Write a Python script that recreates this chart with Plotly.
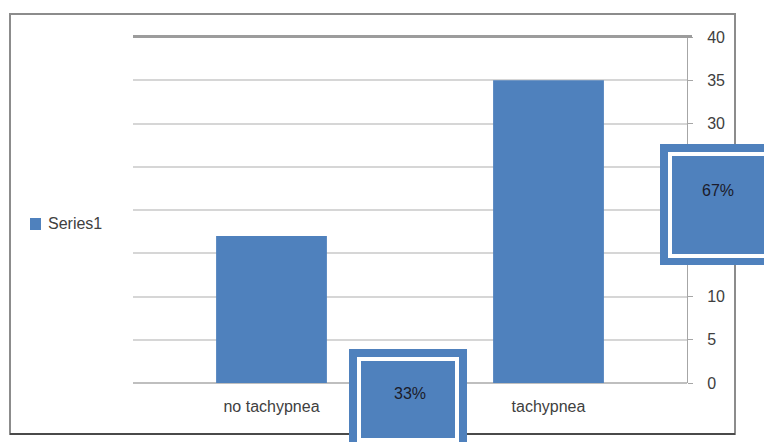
import plotly.graph_objects as go

# Data
categories = ["no tachypnea", "tachypnea"]
counts = [17, 35]
series_name = "Series1"
y_ticks = [0, 5, 10, 15, 20, 25, 30, 35, 40]

BLUE = "#4F81BD"
TEXT = "#404040"
FONT = "Liberation Sans"

W, H = 764, 442
# plot area in pixels
PL, PR, PT, PB = 133, 687, 37, 383


def px(x):
    return (x - PL) / (PR - PL)


def py(y):
    return (PB - y) / (PB - PT)


total = sum(counts)
shares = [round(v / total * 100) for v in counts]

fig = go.Figure()
fig.add_trace(go.Bar(
    x=categories, y=counts, name=series_name,
    marker=dict(color=BLUE, line=dict(width=0)),
    showlegend=False,
))

shapes = []
annotations = []

# outer chart frame
shapes.append(dict(type="rect", xref="paper", yref="paper",
                   x0=px(10), x1=px(735), y0=py(434), y1=py(14),
                   line=dict(color="#8c8c8c", width=2), layer="below"))
shapes.append(dict(type="line", xref="paper", yref="paper",
                   x0=px(10), x1=px(735), y0=py(434), y1=py(434),
                   line=dict(color="#4a4a4a", width=2), layer="below"))

# heavy top gridline
shapes.append(dict(type="line", xref="paper", yref="paper",
                   x0=0, x1=px(692), y0=py(36.5), y1=py(36.5),
                   line=dict(color="#9c9c9c", width=3), layer="above"))

# manual legend
shapes.append(dict(type="rect", xref="paper", yref="paper",
                   x0=px(30), x1=px(41), y0=py(230), y1=py(218),
                   fillcolor=BLUE, line=dict(width=0)))
annotations.append(dict(text=series_name, xref="paper", yref="paper",
                        x=px(46), y=py(224), xanchor="left", yanchor="middle",
                        showarrow=False, font=dict(family=FONT, size=16, color=TEXT)))


def label_box(outer, ring, inner, text_xy, text):
    """Blue callout with a thin white inner ring."""
    for (x0, y0, x1, y1), color in ((outer, BLUE), (ring, "white"), (inner, BLUE)):
        shapes.append(dict(type="rect", xref="paper", yref="paper",
                           x0=px(x0), x1=px(x1), y0=py(y1), y1=py(y0),
                           fillcolor=color, line=dict(width=0), layer="above"))
    annotations.append(dict(text=text, xref="paper", yref="paper",
                            x=px(text_xy[0]), y=py(text_xy[1]),
                            xanchor="center", yanchor="middle", showarrow=False,
                            font=dict(family=FONT, size=16, color="#1b1b2a")))


label_box((349, 349, 467, 452), (357, 357, 459, 442), (361, 361, 455, 438),
          (410, 393), f"{shares[0]}%")
label_box((660, 144, 790, 265), (668, 152, 782, 258), (672, 156, 778, 254),
          (718, 190), f"{shares[1]}%")

fig.update_layout(
    width=W, height=H,
    margin=dict(l=PL, r=W - PR, t=PT, b=H - PB),
    paper_bgcolor="white", plot_bgcolor="white",
    bargap=0.6,
    shapes=shapes, annotations=annotations,
    font=dict(family=FONT, color=TEXT),
    xaxis=dict(
        type="category", showgrid=False, showline=False, zeroline=False,
        ticks="", tickfont=dict(size=16, color=TEXT), ticklabelstandoff=12,
    ),
    yaxis=dict(
        side="right", range=[0, 40], tickvals=y_ticks,
        showgrid=True, gridcolor="#d6d6d6", gridwidth=1.5,
        zeroline=True, zerolinecolor="#bfbfbf", zerolinewidth=1.5,
        showline=True, linecolor="#a6a6a6", linewidth=1,
        ticks="outside", ticklen=5, tickcolor="#a6a6a6",
        tickfont=dict(size=16, color=TEXT), ticklabelstandoff=11,
    ),
)

fig.write_html("out.html")
